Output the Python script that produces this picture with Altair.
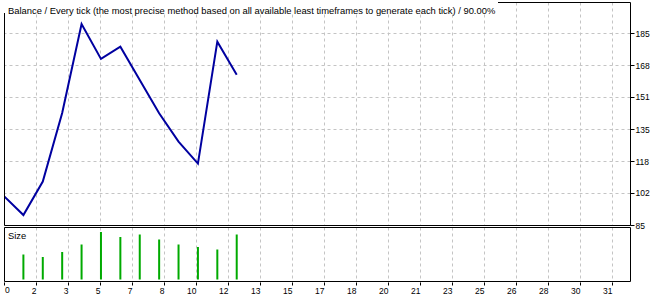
import altair as alt
import pandas as pd

# ---------------- data ----------------
trades = [0, 1, 2, 3, 4, 5, 6, 7, 8, 9, 10, 11, 12]
balance = [100.0, 90.2, 107.6, 143.3, 189.7, 171.5, 177.9, 160.5, 143.2, 128.4, 117.0, 180.5, 163.3]

lot_trades = [1, 2, 3, 4, 5, 6, 7, 8, 9, 10, 11, 12]
lots = [0.10, 0.09, 0.11, 0.14, 0.19, 0.17, 0.18, 0.16, 0.14, 0.13, 0.12, 0.18]

x_tick_values = [0, 1.65, 3.3, 4.95, 6.6, 8.25, 9.9, 11.55, 13.2, 14.85, 16.5,
                 18.15, 19.8, 21.45, 23.1, 24.75, 26.4, 28.05, 29.7, 31.35]
x_tick_labels = ["0", "2", "3", "5", "7", "8", "10", "12", "13", "15", "17",
                 "18", "20", "21", "23", "25", "26", "28", "30", "31"]

y_tick_values = [85, 101.67, 118.33, 135, 151.67, 168.33, 185]
y_tick_labels = ["85", "102", "118", "135", "151", "168", "185"]

title_text = ("Balance / Every tick (the most precise method based on all available "
              "least timeframes to generate each tick) / 90.00%")
size_text = "Size"

# ---------------- styling ----------------
FONT = "Liberation Sans"
LINE_COLOR = "#0000a0"
BAR_COLOR = "#00aa00"
GRID_COLOR = "#c4c4c4"
W = 626
H_MAIN = 223
H_SIZE = 55
TICK_FS = 8.5


def label_expr(values, labels):
    expr = "'" + labels[-1] + "'"
    for i in range(len(values) - 2, -1, -1):
        mid = (values[i] + values[i + 1]) / 2
        expr = f"datum.value < {mid} ? '{labels[i]}' : ({expr})"
    return expr


x_scale = alt.Scale(domain=[0, 32.28], nice=False, zero=False)

# ---------------- main panel ----------------
bal_df = pd.DataFrame({"trade": trades, "balance": balance})
one = pd.DataFrame({"t": [title_text]})

x_grid_axis = alt.Axis(values=x_tick_values, grid=True, gridColor=GRID_COLOR,
                       gridDash=[3, 3], labels=False, ticks=False, domain=False,
                       title=None, minExtent=0, maxExtent=0, offset=0)

line = alt.Chart(bal_df).mark_line(color=LINE_COLOR, strokeWidth=2, clip=True).encode(
    x=alt.X("trade:Q", scale=x_scale, axis=x_grid_axis),
    y=alt.Y("balance:Q",
            scale=alt.Scale(domain=[85, 85 + H_MAIN / 1.92], nice=False, zero=False),
            axis=alt.Axis(orient="right", values=y_tick_values,
                          labelExpr=label_expr(y_tick_values, y_tick_labels),
                          grid=True, gridColor=GRID_COLOR, gridDash=[3, 3],
                          domain=False, tickColor="black", tickSize=4,
                          labelPadding=1, labelFont=FONT, labelFontSize=TICK_FS,
                          labelColor="black", labelOverlap=False, title=None))
)

frame_main = alt.Chart(one).mark_rect(filled=False, stroke="black", strokeWidth=1).encode(
    x=alt.value(0.5), x2=alt.value(W + 0.5), y=alt.value(0.5), y2=alt.value(H_MAIN + 0.5)
)

title_bg = alt.Chart(one).mark_rect(fill="white", stroke=None).encode(
    x=alt.value(0), x2=alt.value(494), y=alt.value(0), y2=alt.value(11)
)

title = alt.Chart(one).mark_text(align="left", baseline="alphabetic", font=FONT,
                                 fontSize=9.4, color="black").encode(
    x=alt.value(4), y=alt.value(12), text="t:N"
)

main = alt.layer(line, frame_main, title_bg, title).properties(width=W, height=H_MAIN)

# ---------------- size panel ----------------
lot_df = pd.DataFrame({"trade": lot_trades, "lot": lots})
size_df = pd.DataFrame({"t": [size_text]})
# first x tick label is drawn flush-left at its tick (as in the reference)
first_label_df = pd.DataFrame({"v": [x_tick_values[0]], "t": [x_tick_labels[0]]})
rest_expr = "datum.value == 0 ? '' : (" + label_expr(x_tick_values, x_tick_labels) + ")"

x_size_axis = alt.Axis(values=x_tick_values, labelExpr=rest_expr,
                       grid=True, gridColor=GRID_COLOR, gridDash=[3, 3],
                       domain=False, tickColor="black", tickSize=3,
                       labelPadding=1, labelFont=FONT, labelFontSize=TICK_FS,
                       labelColor="black", labelAlign="right", labelFlush=False,
                       labelOverlap=False, labelBound=False, title=None)

bars = alt.Chart(lot_df).mark_rule(color=BAR_COLOR, strokeWidth=2).encode(
    x=alt.X("trade:Q", scale=x_scale, axis=x_size_axis),
    y=alt.Y("lot:Q", scale=alt.Scale(domain=[-0.01, 0.21], nice=False, zero=False),
            axis=None),
    y2=alt.datum(0),
)

first_label = alt.Chart(first_label_df).mark_text(
    align="left", baseline="top", font=FONT, fontSize=TICK_FS, color="black", dx=1
).encode(x=alt.X("v:Q", scale=x_scale, axis=x_size_axis),
         y=alt.value(H_SIZE + 4), text="t:N")

frame_size = alt.Chart(size_df).mark_rect(filled=False, stroke="black", strokeWidth=1).encode(
    x=alt.value(0.5), x2=alt.value(W + 0.5), y=alt.value(0.5), y2=alt.value(H_SIZE - 0.5)
)

size_label = alt.Chart(size_df).mark_text(align="left", baseline="alphabetic", font=FONT,
                                          fontSize=9.4, color="black").encode(
    x=alt.value(4), y=alt.value(12), text="t:N"
)

size_panel = alt.layer(bars, first_label, frame_size, size_label).properties(
    width=W, height=H_SIZE)

chart = alt.vconcat(main, size_panel, spacing=2, bounds="flush").properties(
    padding={"left": 3, "top": 2, "right": 0, "bottom": 0},
    background="white",
).configure_view(stroke=None).configure_concat(spacing=2)

chart.save("out.html", embed_options={"renderer": "svg", "actions": False})
